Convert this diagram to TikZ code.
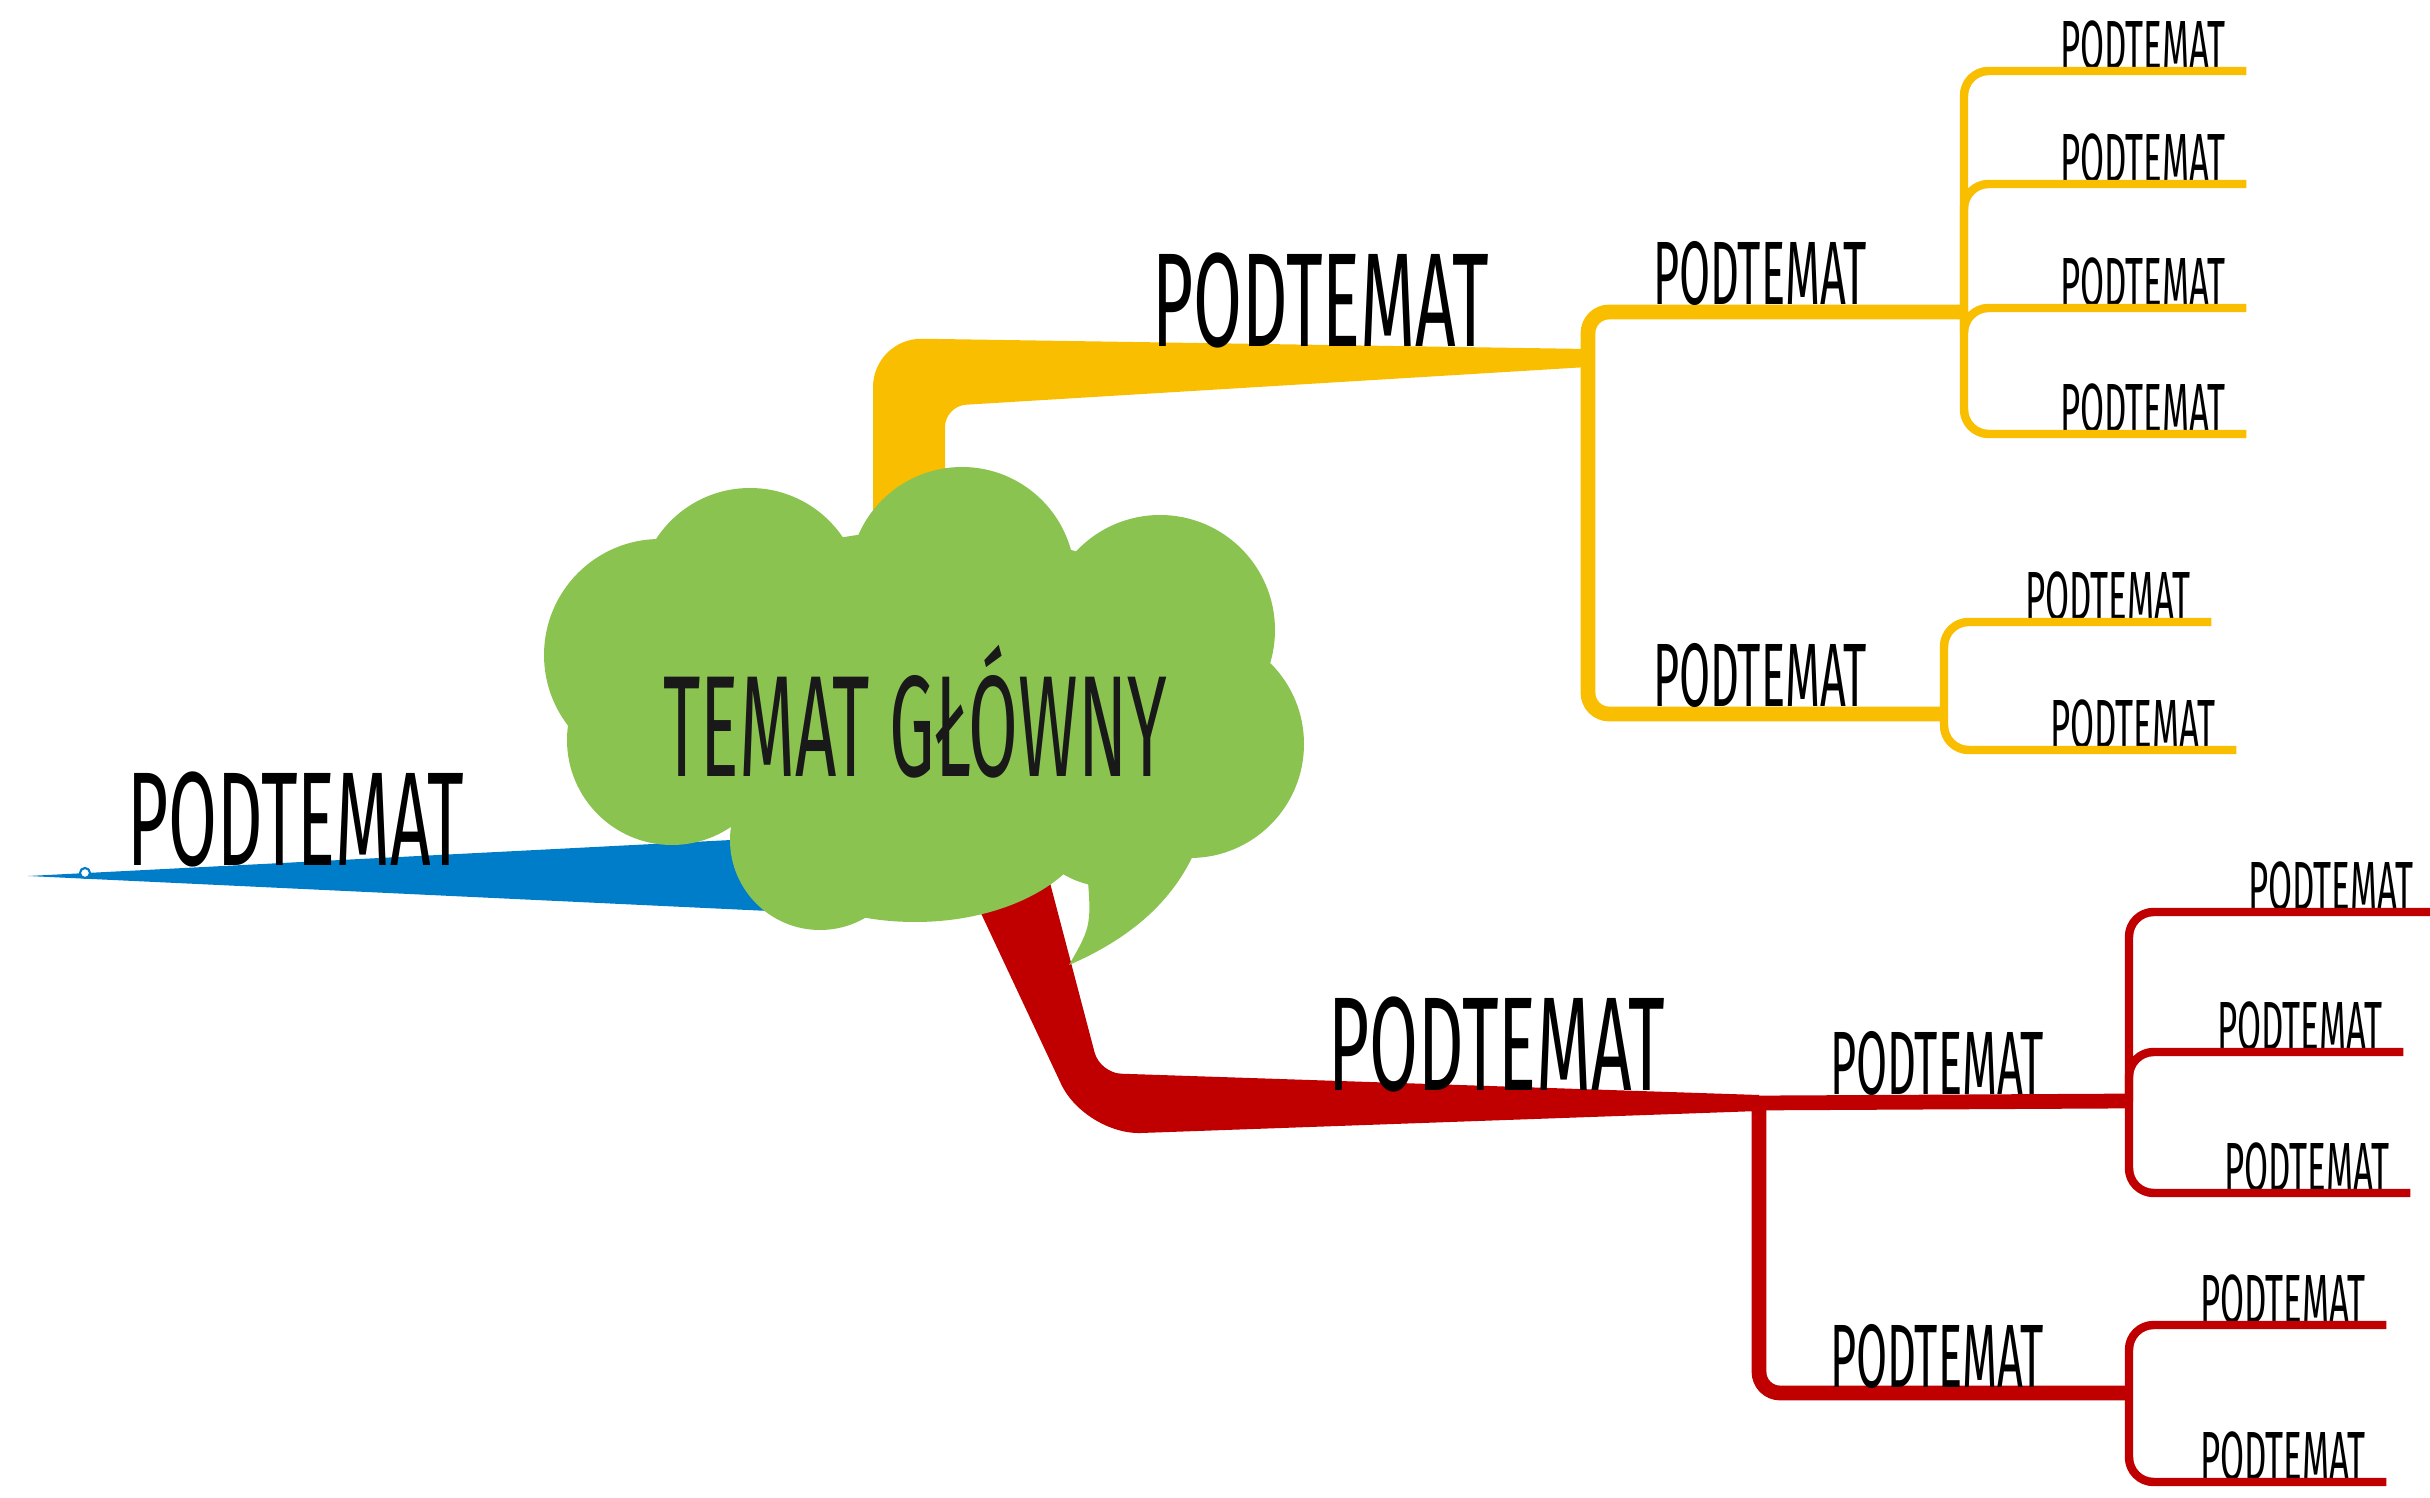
\documentclass[tikz,border=0pt]{standalone}
\usepackage{fontspec}
\newfontfamily\handfont[FakeStretch=0.5]{Fira Sans}
\newfontfamily\handwide[FakeStretch=0.53]{Fira Sans}
\usetikzlibrary{positioning, calc}
\definecolor{mmyellow}{RGB}{250,190,0}
\definecolor{mmred}{RGB}{192,0,0}
\definecolor{mmblue}{RGB}{0,125,200}
\definecolor{mmgreen}{RGB}{139,195,80}
\tikzset{
    base/.style={inner sep=0pt, anchor=south, text=black},
    maintopic/.style={inner sep=0pt, text=black!90, font=\handfont\fontsize{41}{41}\selectfont},
    bigtopic/.style={base, font=\handwide\fontsize{38}{38}\selectfont},
    subtopic/.style={base, font=\handfont\fontsize{25.6}{26}\selectfont},
    leaftopic/.style={base, inner xsep=0.2cm, font=\handfont\fontsize{19.8}{20}\selectfont},
    ysub/.style={draw=mmyellow, line width=4.2pt, rounded corners=6pt},
    yleaf/.style={draw=mmyellow, line width=2.4pt, rounded corners=7pt},
    rsub/.style={draw=mmred, line width=4.2pt, rounded corners=6pt},
    rleaf/.style={draw=mmred, line width=2.4pt, rounded corners=7pt}
}

\begin{document}
\begin{tikzpicture}[x=0.01cm, y=-0.01cm]
    \fill[white] (0,0) rectangle (2430,1498);
    \useasboundingbox (0,0) rectangle (2430,1498);

    % Junctions
    \coordinate (yJ) at (1588,358);
    \coordinate (rJ) at (1759,1103);
    \coordinate (bT) at (28,876);
    \coordinate (ya) at (1964,312);
    \coordinate (yb) at (1944,714);
    \coordinate (ra) at (2129,1101);
    \coordinate (rb) at (2129,1393);

    % Main branches (behind the cloud)
    \fill[mmyellow] (873,560) [rounded corners=14pt] -- (873,338) [sharp corners] -- ($(yJ)+(0,-9)$) -- ($(yJ)+(0,9)$) [rounded corners=6pt] -- (945,406) [sharp corners] -- (945,560) -- cycle;
    \fill[mmred] (956,860) [rounded corners=16pt] -- (1085,1135) [sharp corners] -- ($(rJ)+(0,8)$) -- ($(rJ)+(0,-8)$) [rounded corners=6pt] -- (1100,1073) [sharp corners] -- (1044,860) -- cycle;
    \fill[mmblue] (bT) -- (790,837) -- (790,912) -- cycle;
    \node[circle, draw=mmblue, fill=white, inner sep=0pt, minimum size=0.1cm, line width=0.6pt] (bmark) at (85,873) {};

    % Cloud
    \begin{scope}[fill=mmgreen]
        \fill (962,580) circle [radius=113];
        \fill (750,600) circle [radius=112];
        \fill (660,655) circle [radius=116];
        \fill (672,740) circle [radius=105];
        \fill (820,840) circle [radius=90];
        \fill (915,812) ellipse [x radius=180, y radius=110];
        \fill (1160,630) circle [radius=115];
        \fill (1190,744) circle [radius=114];
        \fill (1110,795) circle [radius=92];
        \fill (930,700) ellipse [x radius=300, y radius=170];
        \fill (1086,860) .. controls (1092,925) .. (1069,965) .. controls (1150,930) and (1190,880) .. (1206,820) -- cycle;
    \end{scope}
    \node[maintopic] (main) at (915,712) {TEMAT GŁÓWNY};

    % Branch labels
    \node[bigtopic] (ytop) at (1321,349) {PODTEMAT};
    \node[bigtopic] (rtop) at (1497,1093) {PODTEMAT};
    \node[bigtopic] (btop) at (296,868) {PODTEMAT};

    % Yellow sub-branches
    \draw[ysub] (yJ) |- (ya);
    \draw[ysub] (yJ) |- (yb);
    \node[subtopic] (ys1) at (1760,306) {PODTEMAT};
    \node[subtopic] (ys2) at (1760,708) {PODTEMAT};

    \node[leaftopic] (yl1) at (2143,71) {PODTEMAT};
    \node[leaftopic] (yl2) at (2143,184) {PODTEMAT};
    \node[leaftopic] (yl3) at (2143,308) {PODTEMAT};
    \node[leaftopic] (yl4) at (2143,434) {PODTEMAT};
    \node[leaftopic] (yl5) at (2108,622) {PODTEMAT};
    \node[leaftopic] (yl6) at (2133,750) {PODTEMAT};
    \draw[yleaf] (ya) |- (yl1.south east);
    \draw[yleaf] (ya) |- (yl2.south east);
    \draw[yleaf] (ya) |- (yl3.south east);
    \draw[yleaf] (ya) |- (yl4.south east);
    \draw[yleaf] (yb) |- (yl5.south east);
    \draw[yleaf] (yb) |- (yl6.south east);

    % Red sub-branches
    \draw[rsub] (rJ) -- (ra);
    \draw[rsub] (rJ) |- (rb);
    \node[subtopic] (rs1) at (1937,1096) {PODTEMAT};
    \node[subtopic] (rs2) at (1937,1389) {PODTEMAT};

    \node[leaftopic] (rl1) at (2331,912) {PODTEMAT};
    \node[leaftopic] (rl2) at (2300,1052) {PODTEMAT};
    \node[leaftopic] (rl3) at (2307,1193) {PODTEMAT};
    \node[leaftopic] (rl4) at (2283,1325) {PODTEMAT};
    \node[leaftopic] (rl5) at (2283,1482) {PODTEMAT};
    \draw[rleaf] (ra) |- (rl1.south east);
    \draw[rleaf] (ra) |- (rl2.south east);
    \draw[rleaf] (ra) |- (rl3.south east);
    \draw[rleaf] (rb) |- (rl4.south east);
    \draw[rleaf] (rb) |- (rl5.south east);
\end{tikzpicture}
\end{document}
